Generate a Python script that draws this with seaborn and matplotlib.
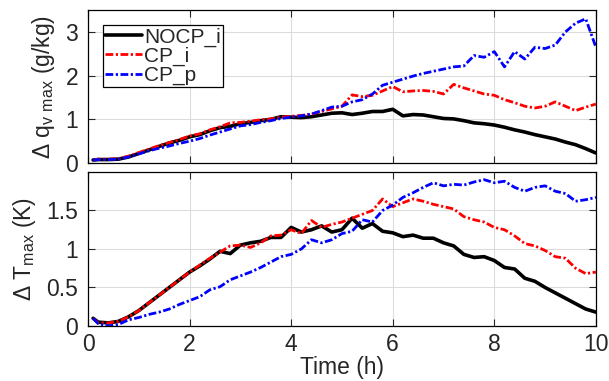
import pandas as pd
import matplotlib
matplotlib.use("Agg")
import matplotlib.pyplot as plt
import seaborn as sns

# time axis (h)
hours = [0.1, 0.2, 0.4, 0.6, 0.8, 1.0, 1.2, 1.4, 1.6, 1.8, 2.0, 2.2, 2.4, 2.6, 2.8,
         3.0, 3.2, 3.4, 3.6, 3.8, 4.0, 4.2, 4.4, 4.6, 4.8, 5.0, 5.2, 5.4, 5.6, 5.8,
         6.0, 6.2, 6.4, 6.6, 6.8, 7.0, 7.2, 7.4, 7.6, 7.8, 8.0, 8.2, 8.4, 8.6, 8.8,
         9.0, 9.2, 9.4, 9.6, 9.8, 10.0]

runs = ["NOCP_i", "CP_i", "CP_p"]

# max vapour mixing ratio difference (g/kg)
qv_nocp_i = [0.07, 0.08, 0.08, 0.09, 0.14, 0.22, 0.30, 0.38, 0.46, 0.52, 0.60, 0.65, 0.74, 0.81, 0.84,
             0.90, 0.93, 0.97, 1.00, 1.06, 1.05, 1.04, 1.06, 1.10, 1.14, 1.15, 1.11, 1.14, 1.18, 1.18,
             1.23, 1.08, 1.11, 1.10, 1.06, 1.02, 1.01, 0.97, 0.92, 0.90, 0.87, 0.82, 0.76, 0.71, 0.65,
             0.60, 0.55, 0.48, 0.42, 0.33, 0.23]
qv_cp_i = [0.07, 0.09, 0.09, 0.10, 0.16, 0.24, 0.32, 0.40, 0.47, 0.54, 0.62, 0.67, 0.76, 0.83, 0.92,
           0.93, 0.96, 0.99, 1.01, 1.05, 1.07, 1.09, 1.12, 1.18, 1.24, 1.30, 1.56, 1.52, 1.55, 1.65,
           1.75, 1.63, 1.65, 1.66, 1.64, 1.58, 1.80, 1.72, 1.65, 1.58, 1.55, 1.45, 1.38, 1.30, 1.26,
           1.30, 1.40, 1.30, 1.20, 1.28, 1.35]
qv_cp_p = [0.07, 0.08, 0.08, 0.09, 0.14, 0.21, 0.28, 0.34, 0.39, 0.45, 0.50, 0.56, 0.64, 0.71, 0.78,
           0.85, 0.88, 0.93, 0.97, 1.02, 1.05, 1.08, 1.12, 1.20, 1.28, 1.30, 1.40, 1.45, 1.58, 1.78,
           1.85, 1.92, 1.99, 2.05, 2.10, 2.15, 2.20, 2.22, 2.46, 2.42, 2.55, 2.20, 2.55, 2.38, 2.65,
           2.62, 2.70, 3.00, 3.20, 3.30, 2.65]

# max temperature difference (K)
t_nocp_i = [0.10, 0.05, 0.04, 0.06, 0.12, 0.20, 0.30, 0.40, 0.50, 0.60, 0.70, 0.78, 0.87, 0.97, 0.94,
            1.05, 1.08, 1.10, 1.15, 1.15, 1.28, 1.22, 1.25, 1.30, 1.22, 1.25, 1.40, 1.27, 1.33, 1.23,
            1.21, 1.16, 1.18, 1.14, 1.14, 1.08, 1.04, 0.93, 0.89, 0.90, 0.85, 0.76, 0.74, 0.62, 0.58,
            0.50, 0.43, 0.36, 0.29, 0.22, 0.18]
t_cp_i = [0.10, 0.04, 0.04, 0.06, 0.12, 0.20, 0.30, 0.40, 0.50, 0.60, 0.70, 0.79, 0.88, 0.96, 1.04,
          1.05, 1.02, 1.08, 1.17, 1.18, 1.25, 1.20, 1.37, 1.28, 1.32, 1.35, 1.40, 1.45, 1.50, 1.65,
          1.55, 1.60, 1.65, 1.62, 1.58, 1.55, 1.52, 1.42, 1.38, 1.35, 1.28, 1.25, 1.17, 1.07, 1.04,
          0.98, 0.90, 0.88, 0.75, 0.68, 0.70]
t_cp_p = [0.10, 0.03, 0.00, 0.02, 0.08, 0.11, 0.15, 0.18, 0.22, 0.28, 0.33, 0.38, 0.47, 0.51, 0.60,
          0.65, 0.70, 0.76, 0.83, 0.90, 0.93, 1.00, 1.12, 1.08, 1.12, 1.20, 1.23, 1.38, 1.35, 1.50,
          1.57, 1.67, 1.73, 1.80, 1.86, 1.82, 1.84, 1.83, 1.87, 1.90, 1.86, 1.88, 1.80, 1.75, 1.80,
          1.82, 1.75, 1.72, 1.62, 1.64, 1.67]

qv_series = [qv_nocp_i, qv_cp_i, qv_cp_p]
t_series = [t_nocp_i, t_cp_i, t_cp_p]

colors = ["black", "red", "blue"]
widths = [2.6, 2.0, 2.0]
dashdot = (0, (2.8, 0.9, 0.8, 0.9))
styles = ["-", dashdot, dashdot]

sns.set_style("ticks")
plt.rcParams["font.family"] = ["Liberation Sans", "DejaVu Sans"]
plt.rcParams["mathtext.default"] = "regular"

fs = 16.5

fig = plt.figure(figsize=(6.09, 3.81), dpi=100)
ax1 = fig.add_axes([0.1445, 0.572, 0.834, 0.4016])
ax2 = fig.add_axes([0.1445, 0.1444, 0.834, 0.4042])

for ax, series in [(ax1, qv_series), (ax2, t_series)]:
    for name, vals, c, lw, ls in zip(runs, series, colors, widths, styles):
        sns.lineplot(x=hours, y=vals, ax=ax, color=c, linewidth=lw,
                     linestyle=ls, label=name, legend=False)
    ax.set_xlim(0, 10)
    ax.set_xticks([0, 2, 4, 6, 8, 10])
    ax.grid(True, color="#dcdcdc", linewidth=0.8)
    ax.set_axisbelow(True)
    ax.tick_params(direction="in", top=True, right=True, length=5,
                   width=0.8, labelsize=fs)
    ax.tick_params(axis="y", pad=7)
    ax.tick_params(axis="x", pad=5)
    for sp in ax.spines.values():
        sp.set_linewidth(0.9)
        sp.set_color("black")

ax1.set_ylim(0, 3.5)
ax1.set_yticks([0, 1, 2, 3])
ax1.tick_params(labelbottom=False)
ax1.set_ylabel("$\\Delta$ q$_{v\\ max}$ (g/kg)", fontsize=fs, labelpad=6)

ax2.set_ylim(0, 2)
ax2.set_yticks([0, 0.5, 1, 1.5])
ax2.set_yticklabels(["0", "0.5", "1", "1.5"])
ax2.set_ylabel("$\\Delta$ T$_{max}$ (K)", fontsize=fs, labelpad=6)
ax2.set_xlabel("Time (h)", fontsize=fs, labelpad=0)

fig.align_ylabels([ax1, ax2])

leg = ax1.legend(loc="upper left", bbox_to_anchor=(0.03, 0.9), borderaxespad=0,
                 fontsize=15, handlelength=1.75, handletextpad=0.1,
                 labelspacing=0.0, borderpad=0.1, fancybox=False, framealpha=1)
leg.get_frame().set_edgecolor("black")
leg.get_frame().set_linewidth(0.9)

plt.savefig("out.png", dpi=100)
print("saved")
